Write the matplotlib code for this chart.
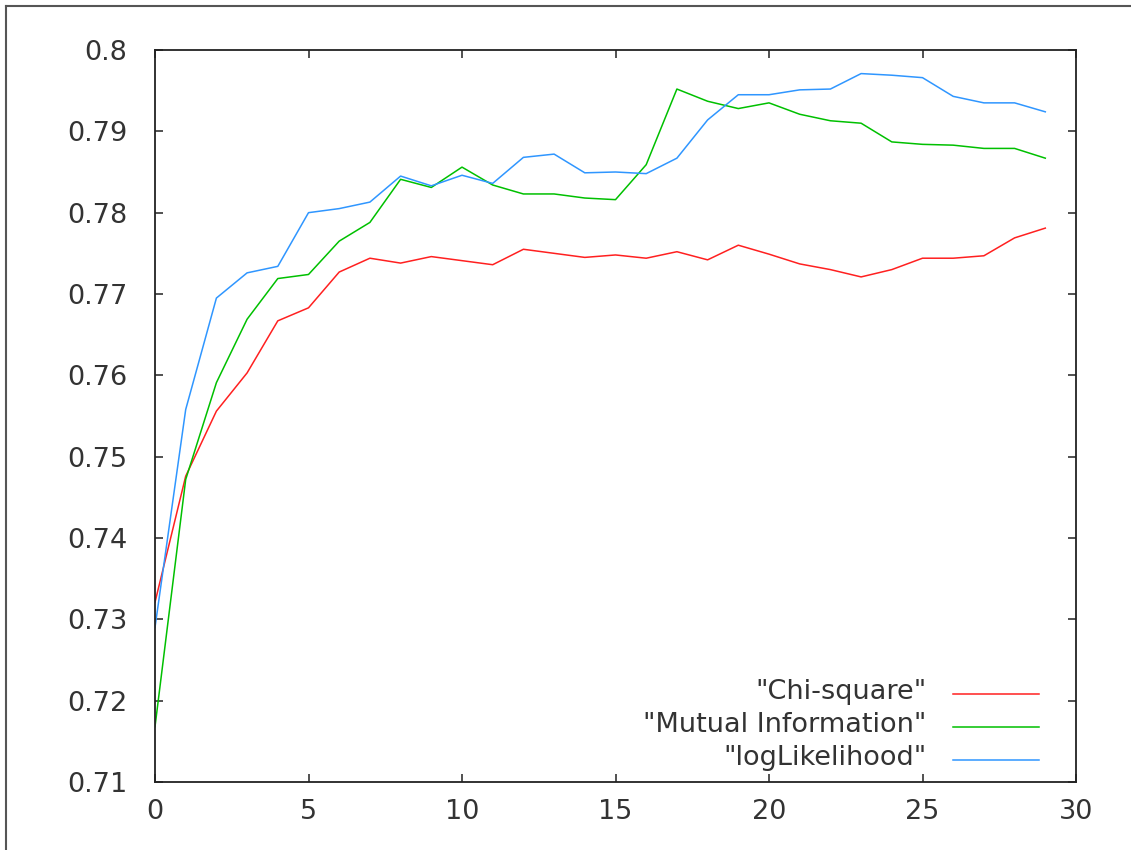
import matplotlib
matplotlib.use("Agg")
import matplotlib.pyplot as plt
from matplotlib.lines import Line2D

x = list(range(30))
chi_square = [0.7321, 0.7476, 0.7556, 0.7603, 0.7667, 0.7683, 0.7727, 0.7744, 0.7738, 0.7746,
              0.7741, 0.7736, 0.7755, 0.7750, 0.7745, 0.7748, 0.7744, 0.7752, 0.7742, 0.7760,
              0.7749, 0.7737, 0.7730, 0.7721, 0.7730, 0.7744, 0.7744, 0.7747, 0.7769, 0.7781]
mutual_info = [0.7168, 0.7472, 0.7591, 0.7669, 0.7719, 0.7724, 0.7765, 0.7788, 0.7841, 0.7831,
               0.7856, 0.7834, 0.7823, 0.7823, 0.7818, 0.7816, 0.7859, 0.7952, 0.7937, 0.7928,
               0.7935, 0.7921, 0.7913, 0.7910, 0.7887, 0.7884, 0.7883, 0.7879, 0.7879, 0.7867]
log_likelihood = [0.7290, 0.7558, 0.7695, 0.7726, 0.7734, 0.7800, 0.7805, 0.7813, 0.7845, 0.7833,
                  0.7846, 0.7836, 0.7868, 0.7872, 0.7849, 0.7850, 0.7848, 0.7867, 0.7914, 0.7945,
                  0.7945, 0.7951, 0.7952, 0.7971, 0.7969, 0.7966, 0.7943, 0.7935, 0.7935, 0.7924]
labels = ['"Chi-square"', '"Mutual Information"', '"logLikelihood"']
colors = ['#ff2020', '#00c000', '#2f96ff']
xticks = [0, 5, 10, 15, 20, 25, 30]
yticks = [0.71, 0.72, 0.73, 0.74, 0.75, 0.76, 0.77, 0.78, 0.79, 0.8]
ytick_labels = ['0.71', '0.72', '0.73', '0.74', '0.75', '0.76', '0.77', '0.78', '0.79', '0.8']

W, H = 1131, 850
fig = plt.figure(figsize=(W / 100, H / 100), dpi=100)
L, R, T, B = 155, 1076, 50, 782
ax = fig.add_axes([L / W, 1 - B / H, (R - L) / W, (B - T) / H])

series = [chi_square, mutual_info, log_likelihood]
for ys, c in zip(series, colors):
    ax.plot(x, ys, color=c, lw=1.1)

ax.set_xlim(0, 30)
ax.set_ylim(0.71, 0.8)
ax.set_xticks(xticks)
ax.set_xticklabels([str(t) for t in xticks])
ax.set_yticks(yticks)
ax.set_yticklabels(ytick_labels)
ax.tick_params(direction='in', length=6, width=1.1, top=True, right=True,
               labelsize=19.5, labelcolor='#333333', color='#222222')
ax.tick_params(axis='x', pad=12)
ax.tick_params(axis='y', pad=20)
for s in ax.spines.values():
    s.set_linewidth(1.3)
    s.set_color('#222222')

# legend (gnuplot style: right-aligned text, sample line to the right)
rows_y = [0.1235, 0.0780, 0.0325]
for lab, c, yy in zip(labels, colors, rows_y):
    ax.text(0.8379, yy, lab, transform=ax.transAxes, ha='right', va='center',
            fontsize=19.5, color='#333333')
    ax.add_line(Line2D([0.8664, 0.9598], [yy - 0.003, yy - 0.003], transform=ax.transAxes,
                       color=c, lw=1.1))

# outer frame of the screenshot (top and left edges)
fig.add_artist(Line2D([6 / W, 1], [1 - 6 / H, 1 - 6 / H], transform=fig.transFigure,
                      color='#555555', lw=1.5))
fig.add_artist(Line2D([6 / W, 6 / W], [0, 1 - 6 / H], transform=fig.transFigure,
                      color='#555555', lw=1.5))

fig.savefig('out.png', dpi=100)
